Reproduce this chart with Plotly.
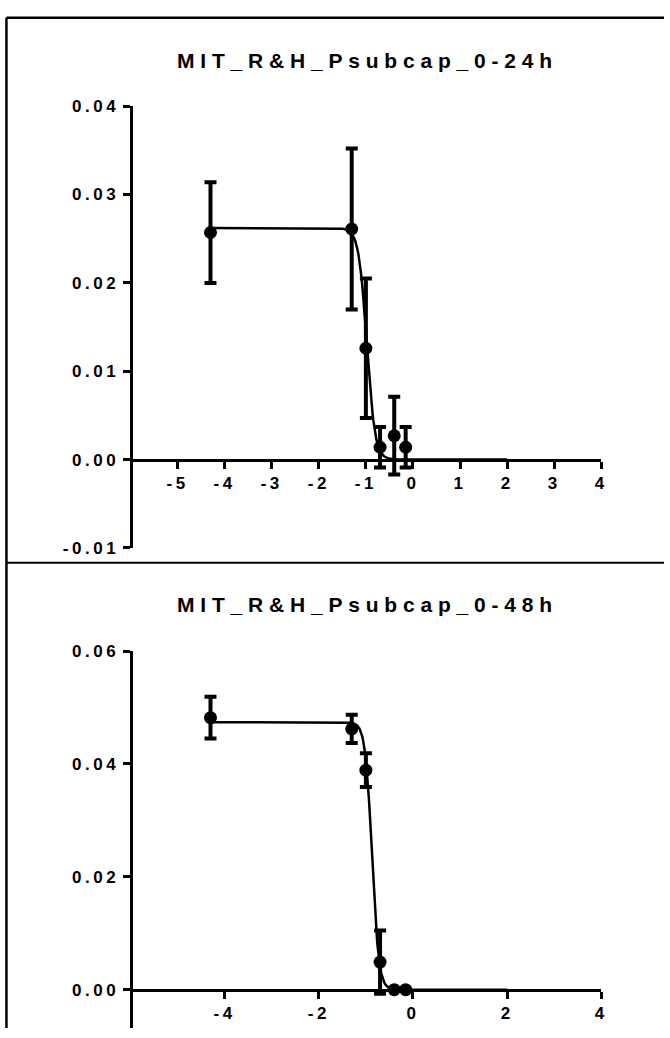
import plotly.graph_objects as go

# ---------------- data ----------------
log_conc = [-4.301, -1.301, -1.0, -0.699, -0.398, -0.155]

mean_24h = [0.0257, 0.0261, 0.0126, 0.0014, 0.0027, 0.0014]
sem_24h = [0.0057, 0.0091, 0.0079, 0.0023, 0.0044, 0.0023]

mean_48h = [0.0482, 0.0462, 0.0389, 0.0049, 0.0, 0.0]
sem_48h = [0.0037, 0.0025, 0.0030, 0.0056, 0.0, 0.0]

# fitted 4-parameter logistic curves (top, bottom, logIC50, hill)
fit_24h = [0.0262, 0.0, -0.98, 5.0]
fit_48h = [0.0474, 0.0, -0.87, 6.0]
curve_start, curve_end = -4.301, 2.0

titles = ["MIT_R&amp;H_Psubcap_0-24h", "MIT_R&amp;H_Psubcap_0-48h"]

x_ticks_1 = [-5, -4, -3, -2, -1, 0, 1, 2, 3, 4]
y_ticks_1 = [-0.01, 0.0, 0.01, 0.02, 0.03, 0.04]
x_ticks_2 = [-4, -2, 0, 2, 4]
y_ticks_2 = [0.0, 0.02, 0.04, 0.06]


def curve(params, n=400):
    top, bottom, logic50, hill = params
    xs = [curve_start + (curve_end - curve_start) * i / (n - 1) for i in range(n)]
    ys = [bottom + (top - bottom) / (1 + 10 ** ((x - logic50) * hill)) for x in xs]
    return xs, ys


# ---------------- layout geometry (pixels) ----------------
W, H = 670, 1038
FONT = "Liberation Sans, Arial, sans-serif"


def px_x(p):
    return p / W


def px_y(p):
    return (H - p) / H


x_left_px, x_right_px = 131.7, 606.7
x_domain = [px_x(x_left_px), px_x(x_right_px)]

TICK_SP = 3.5


def spaced(s, sp=TICK_SP):
    return '<span style="letter-spacing:%spx">%s</span>' % (sp, s)


def fmt_x(v):
    return spaced(str(v))


def fmt_y(v):
    return spaced("%.2f" % v)


fig = go.Figure()

black = "#000000"


def add_panel(xref, yref, means, sems, params):
    cx, cy = curve(params)
    fig.add_trace(go.Scatter(
        x=cx, y=cy, mode="lines", line=dict(color=black, width=2.5),
        xaxis=xref, yaxis=yref, showlegend=False, hoverinfo="skip"))
    fig.add_trace(go.Scatter(
        x=log_conc, y=means, mode="markers",
        marker=dict(color=black, size=13),
        error_y=dict(type="data", array=sems, visible=True, color=black,
                     thickness=4, width=6),
        xaxis=xref, yaxis=yref, showlegend=False))


add_panel("x", "y", mean_24h, sem_24h, fit_24h)
add_panel("x2", "y2", mean_48h, sem_48h, fit_48h)

axis_common = dict(
    showgrid=False, zeroline=False, showline=True, linecolor=black, linewidth=3,
    ticks="outside", tickcolor=black, tickwidth=3, ticklen=7,
    tickfont=dict(family=FONT, size=17, color=black, weight="bold"),
    tickmode="array",
)

# panel 1
y1_domain = [px_y(549), px_y(99)]
y1_range = [-0.01, 0.04]
# panel 2
y2_zero_px, y2_top_px = 999, 654
per = (y2_zero_px - y2_top_px) / 0.06
y2_range = [-(H - y2_zero_px) / per, 0.06]
y2_domain = [0.0, px_y(y2_top_px)]

fig.update_layout(
    width=W, height=H, margin=dict(l=0, r=0, t=0, b=0),
    paper_bgcolor="white", plot_bgcolor="rgba(0,0,0,0)",
    font=dict(family=FONT, color=black),
    xaxis=dict(axis_common, domain=x_domain, range=[-6, 4], anchor="free",
               position=px_y(459), tickvals=x_ticks_1,
               ticktext=[fmt_x(v) for v in x_ticks_1]),
    yaxis=dict(axis_common, domain=y1_domain, range=y1_range, anchor="free",
               position=x_domain[0], tickvals=y_ticks_1,
               ticktext=[fmt_y(v) for v in y_ticks_1]),
    xaxis2=dict(axis_common, domain=x_domain, range=[-6, 4], anchor="free",
                position=px_y(y2_zero_px), tickvals=x_ticks_2,
                ticktext=[fmt_x(v) for v in x_ticks_2]),
    yaxis2=dict(axis_common, domain=y2_domain, range=y2_range, anchor="free",
                position=x_domain[0], tickvals=y_ticks_2,
                ticktext=[fmt_y(v) for v in y_ticks_2]),
)

# titles
for t, ypx in zip(titles, [52, 607]):
    fig.add_annotation(
        x=px_x(371), y=px_y(ypx), xref="paper", yref="paper",
        xanchor="center", yanchor="middle", showarrow=False,
        text='<span style="letter-spacing:5.8px">%s</span>' % t,
        font=dict(family=FONT, size=21, color=black, weight="bold"))

# panel frames
border_x = px_x(6.5)
fig.add_shape(type="line", xref="paper", yref="paper",
              x0=border_x, x1=border_x, y0=0, y1=px_y(9),
              line=dict(color=black, width=2.5))
fig.add_shape(type="line", xref="paper", yref="paper",
              x0=border_x, x1=1, y0=px_y(9), y1=px_y(9),
              line=dict(color=black, width=2.5))
fig.add_shape(type="line", xref="paper", yref="paper",
              x0=border_x, x1=1, y0=px_y(564), y1=px_y(564),
              line=dict(color=black, width=2))

fig.write_html("out.html")
